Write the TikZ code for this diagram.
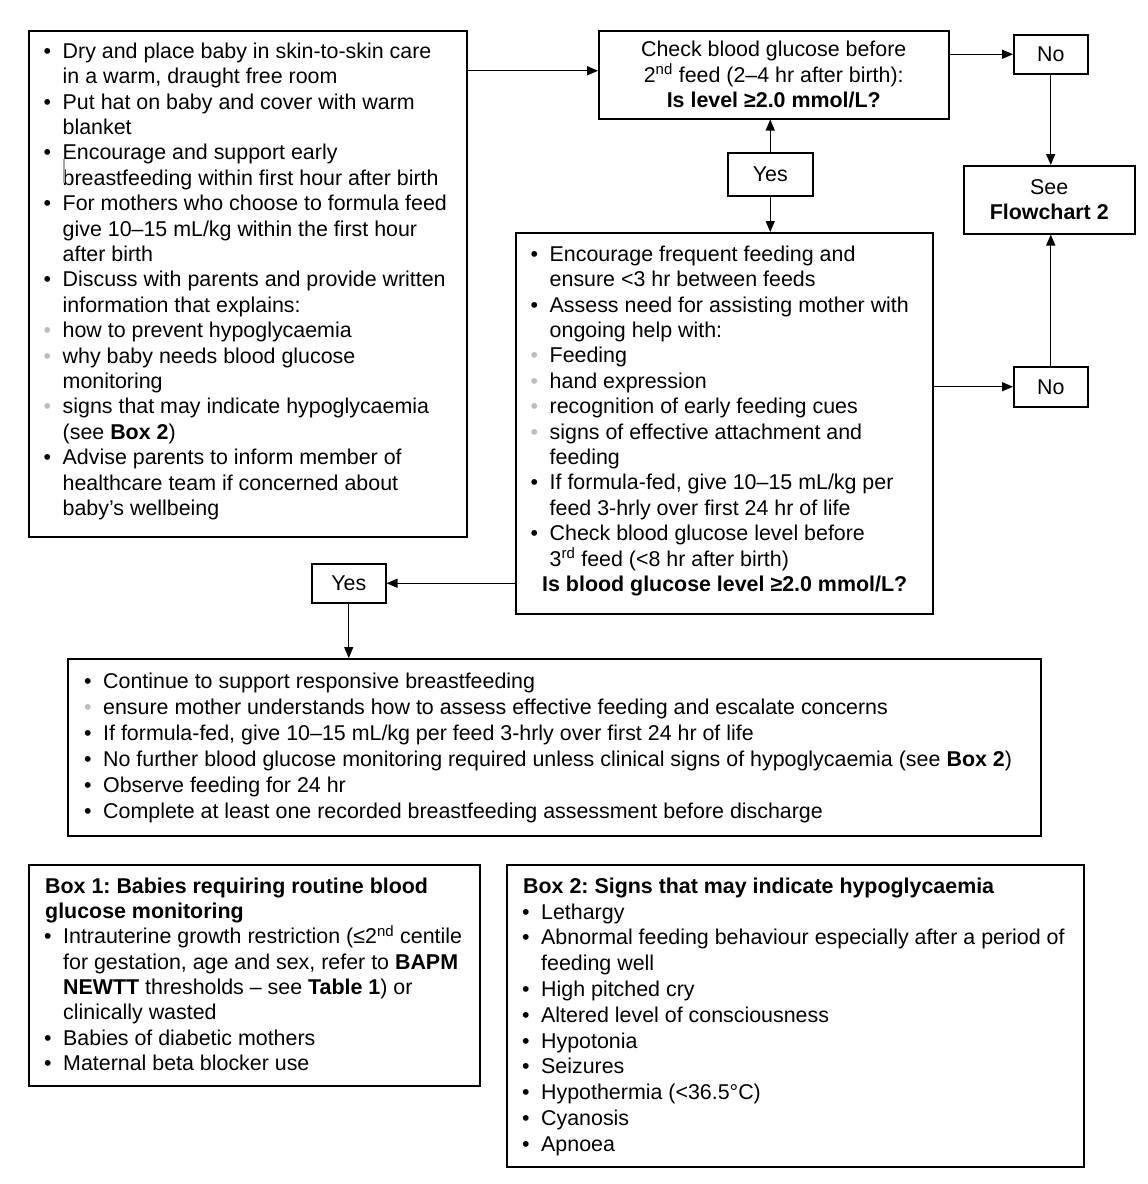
\documentclass[tikz,border=0pt]{standalone}
\usepackage{fontspec}
\setmainfont{Liberation Sans}
\usetikzlibrary{arrows.meta}
\frenchspacing
\definecolor{bulgray}{HTML}{BDBDBD}
\newcommand{\bulA}{\makebox[19.5pt][l]{\hspace{0.5pt}•}}
\newcommand{\bulG}{\makebox[19.5pt][l]{\hspace{0.5pt}\textcolor{bulgray}{•}}}
\newcommand{\contI}{\hspace*{19.5pt}}
\newcommand{\strutA}{\rule{0pt}{18pt}}
\begin{document}
\begin{tikzpicture}[x=1pt,y=-1pt,
  box/.style={draw, line width=1.5pt, inner sep=0pt, anchor=north west, align=center,
    font=\fontsize{21.4pt}{25.4pt}\selectfont},
  txt/.style={anchor=north west, inner sep=0pt, align=left},
  arr/.style={line width=1.4pt, -{Triangle[length=11pt,width=9pt]}}]
\useasboundingbox (0,0) rectangle (1148,1184);
% boxes
\node[box, minimum width=438pt, minimum height=506pt] (A) at (28,30) {};
\node[box, minimum width=350pt, minimum height=88pt] (B) at (598,30)
  {Check blood glucose before\\2\textsuperscript{nd} feed (2–4 hr after birth):\\\textbf{Is level ≥2.0 mmol/L?}};
\node[box, minimum width=74pt, minimum height=39pt] (N1) at (1013,34) {No};
\node[box, minimum width=171pt, minimum height=68pt] (See) at (963,165) {See\\\textbf{Flowchart 2}};
\node[box, minimum width=85pt, minimum height=43pt] (Y1) at (727,152) {Yes};
\node[box, minimum width=417pt, minimum height=381pt] (C) at (515,232) {};
\node[box, minimum width=74pt, minimum height=40pt] (N2) at (1013,366) {No};
\node[box, minimum width=74pt, minimum height=39pt] (Y2) at (311,563) {Yes};
\node[box, minimum width=973pt, minimum height=177pt] (D) at (67,658) {};
\node[box, minimum width=451pt, minimum height=221pt] (Bx1) at (28,864) {};
\node[box, minimum width=577pt, minimum height=302pt] (Bx2) at (506,864) {};
% texts
\node[txt, font=\fontsize{21.4pt}{25.4pt}\selectfont] (tA) at (43,40) {%
\strutA\bulA Dry and place baby in skin-to-skin care\\
\contI in a warm, draught free room\\
\bulA Put hat on baby and cover with warm\\
\contI blanket\\
\bulA Encourage and support early\\
\contI breastfeeding within first hour after birth\\
\bulA For mothers who choose to formula feed\\
\contI give 10–15 mL/kg within the first hour\\
\contI after birth\\
\bulA Discuss with parents and provide written\\
\contI information that explains:\\
\bulG how to prevent hypoglycaemia\\
\bulG why baby needs blood glucose\\
\contI monitoring\\
\bulG signs that may indicate hypoglycaemia\\
\contI (see \textbf{Box 2})\\
\bulA Advise parents to inform member of\\
\contI healthcare team if concerned about\\
\contI baby’s wellbeing};
\draw[gray!70, line width=1.5pt] (64,159) -- (64,183);
\node[txt, font=\fontsize{21.4pt}{25.4pt}\selectfont] (tC) at (530,243) {%
\strutA\bulA Encourage frequent feeding and\\
\contI ensure <3 hr between feeds\\
\bulA Assess need for assisting mother with\\
\contI ongoing help with:\\
\bulG Feeding\\
\bulG hand expression\\
\bulG recognition of early feeding cues\\
\bulG signs of effective attachment and\\
\contI feeding\\
\bulA If formula-fed, give 10–15 mL/kg per\\
\contI feed 3-hrly over first 24 hr of life\\
\bulA Check blood glucose level before\\
\contI 3\textsuperscript{rd} feed (<8 hr after birth)\\
\hspace*{12pt}\textbf{Is blood glucose level ≥2.0 mmol/L?}};
\node[txt, font=\fontsize{21.4pt}{26pt}\selectfont] (tD) at (83.5,670) {%
\strutA\bulA Continue to support responsive breastfeeding\\
\bulG ensure mother understands how to assess effective feeding and escalate concerns\\
\bulA If formula-fed, give 10–15 mL/kg per feed 3-hrly over first 24 hr of life\\
\bulA No further blood glucose monitoring required unless clinical signs of hypoglycaemia (see \textbf{Box 2})\\
\bulA Observe feeding for 24 hr\\
\bulA Complete at least one recorded breastfeeding assessment before discharge};
\node[txt, font=\fontsize{21.4pt}{25.3pt}\selectfont] (t1) at (43.5,875) {%
\strutA\hspace*{1.5pt}\textbf{Box 1: Babies requiring routine blood}\\
\hspace*{1.5pt}\textbf{glucose monitoring}\\
\bulA Intrauterine growth restriction (≤2\textsuperscript{nd} centile\\
\contI for gestation, age and sex, refer to \textbf{BAPM}\\
\contI \textbf{NEWTT} thresholds – see \textbf{Table 1}) or\\
\contI clinically wasted\\
\bulA Babies of diabetic mothers\\
\bulA Maternal beta blocker use};
\node[txt, font=\fontsize{21.4pt}{25.8pt}\selectfont] (t2) at (521.5,875) {%
\strutA\hspace*{1.5pt}\textbf{Box 2: Signs that may indicate hypoglycaemia}\\
\bulA Lethargy\\
\bulA Abnormal feeding behaviour especially after a period of\\
\contI feeding well\\
\bulA High pitched cry\\
\bulA Altered level of consciousness\\
\bulA Hypotonia\\
\bulA Seizures\\
\bulA Hypothermia (<36.5°C)\\
\bulA Cyanosis\\
\bulA Apnoea};
% connectors
\coordinate (Bin) at ([yshift=4pt]B.west);
\draw[arr] (A.east |- Bin) -- (Bin);
\draw[arr] (B.east |- N1.west) -- (N1.west);
\draw[arr] (N1.south) -- (N1.south |- See.north);
\draw[arr] (Y1.north) -- (Y1.north |- B.south);
\draw[arr] (Y1.south) -- (Y1.south |- C.north);
\draw[arr] (C.east |- N2.west) -- (N2.west);
\draw[arr] (N2.north) -- (N2.north |- See.south);
\draw[arr] (C.west |- Y2.east) -- (Y2.east);
\draw[arr] (Y2.south) -- (Y2.south |- D.north);
\end{tikzpicture}
\end{document}
